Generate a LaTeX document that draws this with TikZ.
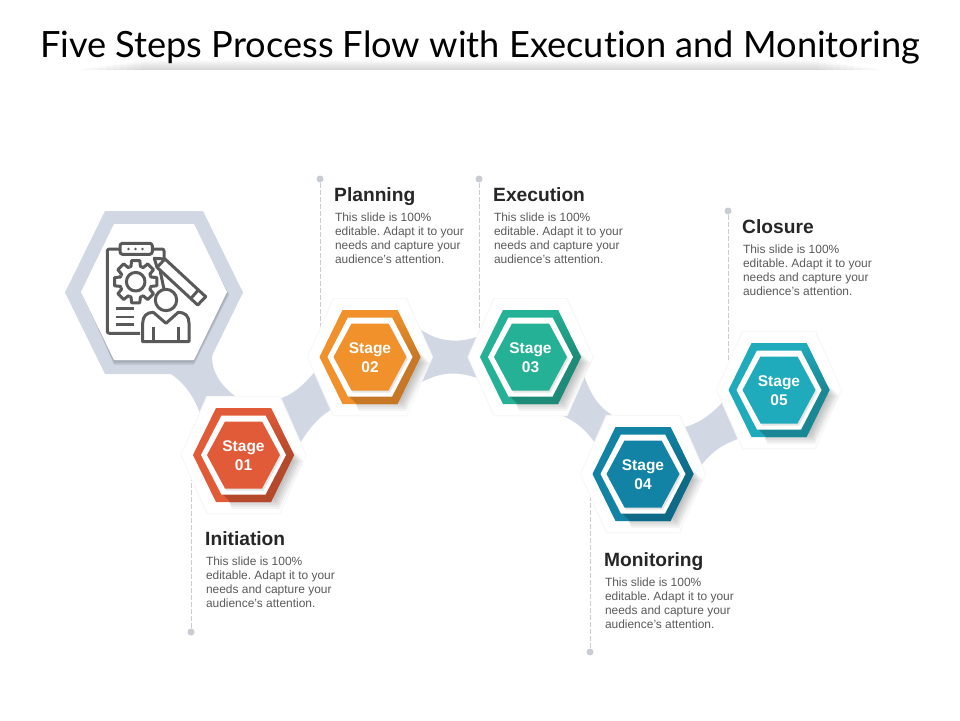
\documentclass[tikz,border=0pt]{standalone}
\usepackage{fontspec}
\setmainfont{Liberation Sans}
\newfontfamily\titlefont[Ligatures=NoCommon]{Lato}

\definecolor{bandblue}{HTML}{D1D8E4}
\definecolor{leadergray}{HTML}{C9CCD2}
\definecolor{icongray}{HTML}{595959}
\definecolor{bodygray}{HTML}{5A5A5A}
\definecolor{headgray}{HTML}{262626}

\tikzset{
  band/.style={fill=bandblue},
  leader/.style={draw=leadergray,dash pattern=on 5pt off 2pt,line width=0.7pt},
  dotmark/.style={circle,fill=leadergray,inner sep=0pt,minimum size=7pt},
  iconline/.style={draw=icongray,line width=3pt,line join=round},
  stagelabel/.style={text=white,align=center,inner sep=0pt,font=\bfseries\fontsize{15.5}{19}\selectfont},
  headlabel/.style={text=headgray,anchor=base west,inner sep=0pt,font=\bfseries\fontsize{19.2}{22}\selectfont},
  bodylabel/.style={text=bodygray,anchor=north west,align=left,inner sep=0pt,font=\frenchspacing\fontsize{11.95}{14.2}\selectfont}
}

% hexagon: centre x, centre y, half width, half height, half of the flat side
\newcommand{\hexpath}[5]{(#1-#3,#2) -- (#1-#5,#2-#4) -- (#1+#5,#2-#4) -- (#1+#3,#2) -- (#1+#5,#2+#4) -- (#1-#5,#2+#4) -- cycle}
\newcommand{\slidetext}{This slide is 100\%\\editable. Adapt it to your\\needs and capture your\\audience's attention.}

\begin{document}
\begin{tikzpicture}[x=1pt,y=-1pt]
  \useasboundingbox (0,0) rectangle (960,720);
  \fill[white] (0,0) rectangle (960,720);

  % Title with the soft bar below it
  \foreach \k in {0,...,9}{
    \fill[black,opacity=.014] (78+\k*7,68.5-\k) rectangle (882-\k*7,70);
  }
  \node (title) at (480,47) [inner sep=0pt,text=black,font=\titlefont\fontsize{36.2}{44}\selectfont] {Five Steps Process Flow with Execution and Monitoring};

  % Bands between the hexagons
  \fill[band] (165,370) .. controls (185,382) and (195,397) .. (203,422) -- (245,402) .. controls (225,392) and (208,372) .. (213,350) -- cycle;
  \fill[band] (275,400) .. controls (292,396) and (305,385) .. (320,365) -- (342,405) .. controls (325,410) and (310,425) .. (298,447) -- cycle;
  \fill[band] (415,325) .. controls (432,340) and (455,346) .. (482,335) -- (482,380) .. controls (458,370) and (440,372) .. (420,383) -- cycle;
  \fill[band] (583,372) .. controls (590,395) and (600,410) .. (618,418) -- (600,452) .. controls (590,432) and (575,420) .. (558,414) -- cycle;
  \fill[band] (680,428) .. controls (697,425) and (712,415) .. (726,398) -- (745,437) .. controls (725,442) and (710,452) .. (698,470) -- cycle;

  % Leader lines with their dots
  \foreach \x/\y/\z/\name in {191/632/470/1, 320/179/345/2, 479/179/345/3, 590/652/470/4, 728/211/375/5}{
    \node[dotmark] (dot\name) at (\x,\y) {};
    \coordinate (foot\name) at (\x,\z);
    \draw[leader] (dot\name) -- (foot\name);
  }

  % Big hexagon
  \fill[bandblue] \hexpath{154}{292.5}{89}{81.5}{49};
  \foreach \s in {2,1}{
    \fill[black,opacity=.10] \hexpath{154}{292.5+\s}{73+\s}{68+\s}{40};
  }
  \fill[white] \hexpath{154}{292}{73}{68}{40};

  % Icon
  \draw[iconline,rounded corners=2pt] (140,333.3) -- (107.3,333.3) -- (107.3,249) -- (120,249);
  \draw[iconline,rounded corners=2pt] (152.3,249) -- (164,249) -- (164,258);
  \draw[iconline,rounded corners=2.5pt] (120,243.3) rectangle (152.3,254.3);
  \foreach \x in {128.5,135.5,142.5}{
    \fill[icongray] (\x,249) circle (1.4pt);
  }
  \begin{scope}[shift={(135.7,281.7)}]
    \draw[iconline] (0,0) circle (9.3pt);
    \foreach \a in {0,45,...,315}{
      \draw[iconline] (\a+22.5:16) -- (\a+17:16) -- (\a+11:21.5) -- (\a-11:21.5) -- (\a-17:16) -- (\a-22.5:16);
    }
  \end{scope}
  \draw[iconline] (154.3,258.3) -- (165,259) -- (205.7,296.7) -- (197.7,305) -- (157,267.3) -- cycle;
  \draw[iconline] (165,259) -- (157,267.3);
  \draw[iconline] (160,270) -- (164,289.3);
  \draw[iconline] (198.3,290) -- (191,298.3);
  \draw[iconline] (166,300) circle (10.7pt);
  \draw[iconline] (142.7,341.7) -- (142.7,323) .. controls (142.7,316) and (147,312.3) .. (153.3,312.3) -- (166,323.3) -- (178.3,312.3) .. controls (185,312.3) and (189,316) .. (189,323) -- (189,341.7) -- cycle;
  \draw[iconline] (153.3,326.7) -- (153.3,341);
  \draw[iconline] (178.3,326.7) -- (178.3,341);
  \foreach \y in {308.3,316.7,324.3}{
    \draw[iconline,line width=2.4pt] (115.7,\y) -- (134.3,\y);
  }

  % Stages
  \foreach \x/\y/\base/\dark/\name/\num in {
    243.5/455/E25B39/B4492C/1/01,
    370/357/F0912B/C67826/2/02,
    530.5/357/25B195/1D8B77/3/03,
    643/474/1283A5/0E6A86/4/04,
    779/390/1FABBB/1A8795/5/05
  }{
    \definecolor{stagebase}{HTML}{\base}
    \definecolor{stagedark}{HTML}{\dark}
    \fill[black!3] \hexpath{\x}{\y}{63}{59}{37};
    \fill[white] \hexpath{\x}{\y}{62}{58}{36};
    \foreach \s in {0,2,...,12}{
      \fill[black,opacity=.045] \hexpath{\x+6}{\y+6}{42+\s}{36+\s}{24+\s*.55};
    }
    \fill[stagebase] \hexpath{\x}{\y}{50.5}{47}{27.5};
    \shade[top color=stagebase,bottom color=stagedark] (\x+27.5,\y-47) -- (\x+50.5,\y) -- (\x,\y) -- cycle;
    \fill[stagedark] (\x+50.5,\y) -- (\x+27.5,\y+47) -- (\x-13,\y+47) -- (\x-20,\y+40) -- (\x,\y) -- cycle;
    \fill[white] \hexpath{\x}{\y}{42.5}{39.5}{22};
    \fill[black,opacity=.10] \hexpath{\x+1.5}{\y+2}{36.5}{33.5}{18.5};
    \fill[stagebase] \hexpath{\x}{\y}{36.5}{33.5}{18.5};
    \node[stagelabel] (stage\name) at (\x,\y+1) {Stage\\\num};
  }

  % Labels
  \foreach \x/\y/\title/\name in {
    205/545/Initiation/1,
    334/201/Planning/2,
    493/201/Execution/3,
    604/566/Monitoring/4,
    742/233/Closure/5
  }{
    \node[headlabel] (head\name) at (\x,\y) {\title};
    \node[bodylabel] (body\name) at (\x+0.8,\y+11.3) {\slidetext};
  }
\end{tikzpicture}
\end{document}
